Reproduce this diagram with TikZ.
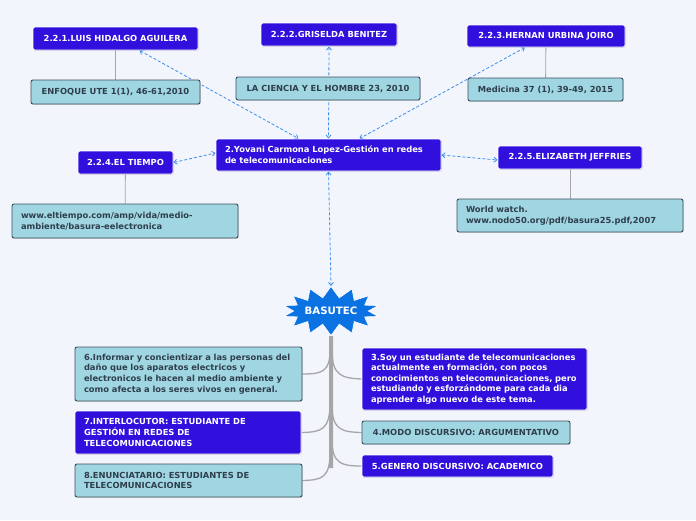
\documentclass[tikz,border=0pt]{standalone}
\usepackage{fontspec}
\setmainfont{DejaVu Sans}
\usetikzlibrary{shapes.symbols,arrows.meta,calc,shadows}
\pgfdeclarelayer{back}
\pgfdeclarelayer{links}
\pgfsetlayers{back,links,main}
\definecolor{bgc}{HTML}{F3F5FD}
\definecolor{nblue}{HTML}{310FDC}
\definecolor{nlight}{HTML}{A0D6E2}
\definecolor{bdark}{HTML}{3C4E5A}
\definecolor{tdark}{HTML}{2E3E4C}
\definecolor{dashc}{HTML}{3C8FEB}
\definecolor{burst}{HTML}{0A72E2}
\definecolor{grayl}{HTML}{A6A6A6}
\begin{document}
\begin{tikzpicture}[x=1pt,y=-1pt,
  every node/.style={font=\fontsize{8.35}{10.6}\selectfont\bfseries, inner sep=0pt},
  bluebox/.style={draw=white, line width=0.9pt, fill=nblue, text=white, rounded corners=1.5pt,
     drop shadow={shadow xshift=0.8pt, shadow yshift=-0.8pt, opacity=0.25}},
  lightbox/.style={draw=bdark, line width=0.9pt, fill=nlight, text=tdark, rounded corners=2pt,
     drop shadow={shadow xshift=0.8pt, shadow yshift=-0.8pt, opacity=0.25}},
  multi/.style={align=left, inner xsep=9pt},
  dlink/.style={draw=dashc, line width=0.8pt, dash pattern=on 3pt off 2pt, {Straight Barb[length=3pt,width=5pt]}-{Straight Barb[length=3pt,width=5pt]}},
  glink/.style={draw=grayl, line width=0.8pt},
  branch/.style={draw=grayl, line width=1.3pt},
]
\begin{pgfonlayer}{back}
\fill[bgc] (0,0) rectangle (696,520);
\end{pgfonlayer}
\useasboundingbox (0,0) rectangle (696,520);

% authors
\node[bluebox, minimum width=165pt, minimum height=23pt] (luis) at (115.5,38.5) {2.2.1.LUIS HIDALGO AGUILERA};
\node[lightbox, minimum width=169pt, minimum height=24pt] (enfoque) at (115.5,92) {ENFOQUE UTE 1(1), 46-61,2010};
\node[bluebox, minimum width=136pt, minimum height=23pt] (gris) at (329,34.5) {2.2.2.GRISELDA BENITEZ};
\node[lightbox, minimum width=184pt, minimum height=23pt] (ciencia) at (328,88.5) {LA CIENCIA Y EL HOMBRE 23, 2010};
\node[bluebox, minimum width=158pt, minimum height=22pt] (hernan) at (546,36) {2.2.3.HERNAN URBINA JOIRO};
\node[lightbox, minimum width=155pt, minimum height=23pt] (medicina) at (545.5,89.5) {Medicina 37 (1), 39-49, 2015};
\node[bluebox, minimum width=95pt, minimum height=23pt] (tiempo) at (125.5,162.5) {2.2.4.EL TIEMPO};
\node[lightbox, multi, text width=208pt, minimum height=34pt] (eltiempo) at (125,221) {www.eltiempo.com/amp/vida/medio-\\ambiente/basura-eelectronica};
\node[bluebox, multi, text width=207pt, minimum height=32pt] (yovani) at (328.5,155) {2.Yovani Carmona Lopez-Gestión en redes\\de telecomunicaciones};
\node[bluebox, minimum width=144pt, minimum height=23pt] (eliz) at (570,157.5) {2.2.5.ELIZABETH JEFFRIES};
\node[lightbox, multi, text width=208pt, minimum height=33pt] (world) at (570,215.5) {World watch.\\www.nodo50.org/pdf/basura25.pdf,2007};

% central burst
\node[starburst, starburst points=14, starburst point height=11pt, random starburst=0,
  fill=burst, draw=white, line width=0.6pt, text=white, minimum width=95pt, minimum height=49pt,
  font=\fontsize{10.2}{11}\selectfont\bfseries] (basutec) at (331,311) {BASUTEC};

% bottom boxes
\node[lightbox, multi, text width=209pt, minimum height=54pt] (informar) at (188.5,374) {6.Informar y concientizar a las personas del\\daño que los aparatos electricos y\\electronicos le hacen al medio ambiente y\\como afecta a los seres vivos en general.};
\node[bluebox, multi, text width=208pt, minimum height=43pt] (interloc) at (188,432.5) {7.INTERLOCUTOR: ESTUDIANTE DE\\GESTIÓN EN REDES DE\\TELECOMUNICACIONES};
\node[lightbox, multi, text width=209pt, minimum height=33pt] (enunc) at (188.5,480.5) {8.ENUNCIATARIO: ESTUDIANTES DE\\TELECOMUNICACIONES};
\node[bluebox, multi, text width=207pt, minimum height=62pt] (soy) at (474.5,379) {3.Soy un estudiante de telecomunicaciones\\actualmente en formación, con pocos\\conocimientos en telecomunicaciones, pero\\estudiando y esforzándome para cada dia\\aprender algo nuevo de este tema.};
\node[lightbox, minimum width=208pt, minimum height=23pt] (modo) at (466,432.5) {4.MODO DISCURSIVO: ARGUMENTATIVO};
\node[bluebox, minimum width=191pt, minimum height=22pt] (genero) at (457.5,466) {5.GENERO DISCURSIVO: ACADEMICO};

\begin{pgfonlayer}{links}
% gray reference links
\draw[glink] (luis) -- (enfoque);
\draw[glink] (hernan) -- (medicina);
\draw[glink] (tiempo) -- (eltiempo);
\draw[glink] (eliz) -- (world);

% dashed links
\draw[dlink] ([xshift=24pt]luis.south) -- ([xshift=-30pt]yovani.north);
\draw[dlink] (gris.south) -- (yovani.north);
\draw[dlink] ([xshift=-21pt]hernan.south) -- ([xshift=31pt]yovani.north);
\draw[dlink] (tiempo.east) -- ([yshift=2pt]yovani.west);
\draw[dlink] (yovani.east) -- ([yshift=-2.5pt]eliz.west);
\draw[dlink] (yovani.south) -- (basutec.north);

% trunk and branches
\coordinate (tend) at (331,468);
\draw[draw=grayl, line width=4pt] (basutec.south) -- (tend);
\draw[branch] (330,350) .. controls (330,372) and (322,374) .. (informar.east);
\draw[branch] (330,402) .. controls (330,430) and (322,432) .. (interloc.east);
\draw[branch] (330,452) .. controls (330,478) and (322,480) .. (enunc.east);
\draw[branch] (332,350) .. controls (332,376) and (342,378) .. (soy.west);
\draw[branch] (332,405) .. controls (332,430) and (342,432) .. (modo.west);
\draw[branch] (332,440) .. controls (332,464) and (342,466) .. (genero.west);
\end{pgfonlayer}
\end{tikzpicture}
\end{document}
